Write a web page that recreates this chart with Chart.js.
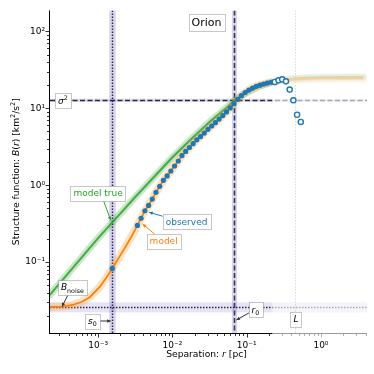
<!DOCTYPE html>
<html><head><meta charset="utf-8">
<script src="https://cdn.jsdelivr.net/npm/chart.js@4.4.1/dist/chart.umd.min.js"></script>
<style>html,body{margin:0;padding:0;background:#fff}#wrap{width:374px;height:374px;position:relative}</style>
</head><body><div id="wrap"><canvas id="c" width="374" height="374"></canvas></div>
<script>
// ---------- data ----------
// observed structure function, reliable bins (filled markers)
const obsR = [0.00155, 0.00338, 0.00379, 0.00426, 0.00478, 0.00536, 0.00601, 0.00675, 0.00757, 0.00849, 0.00953, 0.0107, 0.0120, 0.01346, 0.0151, 0.01694, 0.01901, 0.02133, 0.02393, 0.02685, 0.03013, 0.03381, 0.03793, 0.04256, 0.04775, 0.05358, 0.06012, 0.06745, 0.07568, 0.08492, 0.09528, 0.1069, 0.1200, 0.1346, 0.1510, 0.1694, 0.1901, 0.2133];
const obsB = [0.0828, 0.300, 0.372, 0.465, 0.546, 0.661, 0.809, 0.966, 1.156, 1.321, 1.531, 1.778, 2.065, 2.43, 2.75, 3.09, 3.47, 3.89, 4.29, 4.76, 5.33, 5.89, 6.50, 7.24, 8.04, 8.97, 10.1, 11.5, 13.1, 14.6, 16.0, 17.3, 18.3, 19.3, 20.0, 20.7, 21.3, 21.8];
// observed, large-separation bins (open markers)
const openR = [0.2393, 0.2685, 0.3013, 0.3381, 0.3793, 0.4256, 0.4775, 0.5358];
const openB = [22.0, 23.1, 23.8, 22.4, 17.5, 12.7, 8.24, 6.64];
// fitted model (with seeing + noise)
const modelR = [2.25e-4, 3.26e-4, 4.57e-4, 6.04e-4, 7.74e-4, 1.05e-3, 1.27e-3, 1.55e-3, 1.87e-3, 2.28e-3, 2.75e-3, 0.00338, 0.00379, 0.00426, 0.00478, 0.00536, 0.00601, 0.00675, 0.00757, 0.00849, 0.00953, 0.0107, 0.0120, 0.01346, 0.0151, 0.01694, 0.01901, 0.02133, 0.02393, 0.02685, 0.03013, 0.03381, 0.03793, 0.04256, 0.04775, 0.05358, 0.06012, 0.06745, 0.07568, 0.08492, 0.09528, 0.1069, 0.1200, 0.1346, 0.1510, 0.1694, 0.1901, 0.2133, 0.2393, 0.30, 0.45, 0.70, 1.0, 3.7];
const modelB = [0.0261, 0.0264, 0.0277, 0.0305, 0.0350, 0.0475, 0.0610, 0.0828, 0.111, 0.152, 0.207, 0.300, 0.372, 0.465, 0.546, 0.661, 0.809, 0.966, 1.156, 1.321, 1.531, 1.778, 2.065, 2.43, 2.75, 3.09, 3.47, 3.89, 4.29, 4.76, 5.33, 5.89, 6.50, 7.24, 8.04, 8.97, 10.1, 11.5, 13.1, 14.6, 16.0, 17.3, 18.3, 19.3, 20.0, 20.7, 21.3, 21.8, 22.3, 23.0, 23.7, 24.1, 24.3, 24.4];
// "true" model (no seeing, no noise)
const trueR = [2.24e-4, 1.0e-3, 3.16e-3, 0.01, 0.0178, 0.0316, 0.0562, 0.0684, 0.1, 0.141, 0.2, 0.282, 0.398, 0.631, 1.0, 3.7];
const trueB = [0.0375, 0.205, 0.70, 2.30, 3.95, 6.6, 10.6, 12.7, 16.0, 18.9, 21.2, 22.9, 24.1, 24.9, 25.3, 25.5];
// fitted parameters
const s0 = 1.56e-3, s0Range = [1.41e-3, 1.73e-3];
const r0 = 0.0684, r0Range = [0.0633, 0.0740];
const sig2 = 12.7, sig2Range = [12.14, 13.28];
const bNoise = 0.0258, bNoiseRange = [0.0222, 0.030];
const Lbox = 0.451;
const rGoodMax = 0.221;
// tick labels
const xTickValues = [1e-3, 1e-2, 1e-1, 1];
const xTickLabels = ['10⁻³', '10⁻²', '10⁻¹', '10⁰'];
const yTickValues = [1e-1, 1, 10, 100];
const yTickLabels = ['10⁻¹', '10⁰', '10¹', '10²'];
const xLimits = [2.25e-4, 4.17];
const yLimits = [0.01197, 187.5];

// ---------- styling ----------
const COL = {blue: '#1f77b4', orange: '#ff7f0e', green: '#2ca02c'};
const FONT = '"DejaVu Sans"';
Chart.defaults.font.family = FONT;

const annotations = [
  {segs: [{t: 'Orion'}], at: [0.0288, 131], size: 11, color: '#000'},
  {segs: [{t: 'σ', it: 1}, {t: '2', sup: 1}], at: [3.36e-4, 12.6], size: 9, color: '#000'},
  {segs: [{t: 'model true'}], at: [1.0e-3, 0.787], size: 9, color: COL.green, arrow: [[1.19e-3, 0.619], [1.48e-3, 0.351]]},
  {segs: [{t: 'observed'}], at: [0.0155, 0.336], size: 9, color: COL.blue, arrow: [[7.38e-3, 0.395], [4.86e-3, 0.445]]},
  {segs: [{t: 'model'}], at: [7.62e-3, 0.1875], size: 9, color: COL.orange, arrow: [[5.77e-3, 0.231], [3.98e-3, 0.312]]},
  {segs: [{t: 'B', it: 1}, {t: 'noise', sub: 1}], at: [4.5e-4, 0.0473], size: 9, color: '#000', arrow: [[3.92e-4, 0.0372], [3.26e-4, 0.0264]]},
  {segs: [{t: 's', it: 1}, {t: '0', sub: 1}], at: [8.36e-4, 0.01714], size: 9, color: '#000', arrow: [[1.07e-3, 0.01714], [1.48e-3, 0.01714]]},
  {segs: [{t: 'r', it: 1}, {t: '0', sub: 1}], at: [0.131, 0.02415], size: 9, color: '#000', arrow: [[0.107, 0.0218], [0.0728, 0.01766]]},
  {segs: [{t: 'L', it: 1}], at: [0.46, 0.0182], size: 9, color: '#000'}
];

function segFont(s, size) {
  const sz = (s.sub || s.sup) ? size * 0.7 : size;
  return (s.it ? 'italic ' : '') + sz + 'px ' + FONT;
}
function richWidth(ctx, segs, size) {
  let w = 0;
  segs.forEach(s => { ctx.font = segFont(s, size); w += ctx.measureText(s.t).width; });
  return w;
}
function drawRich(ctx, segs, x, y, size, color) { // x = left, y = baseline
  ctx.fillStyle = color; ctx.textBaseline = 'alphabetic'; ctx.textAlign = 'left';
  segs.forEach(s => {
    ctx.font = segFont(s, size);
    const dy = s.sub ? size * 0.25 : (s.sup ? -size * 0.4 : 0);
    ctx.fillText(s.t, x, y + dy);
    x += ctx.measureText(s.t).width;
  });
}
function arrow(ctx, x1, y1, x2, y2, color) {
  ctx.strokeStyle = color; ctx.lineWidth = 1;
  ctx.beginPath(); ctx.moveTo(x1, y1); ctx.lineTo(x2, y2); ctx.stroke();
  const ang = Math.atan2(y2 - y1, x2 - x1), hl = 4, hw = 0.45;
  ctx.fillStyle = color;
  ctx.beginPath();
  ctx.moveTo(x2, y2);
  ctx.lineTo(x2 - hl * Math.cos(ang - hw), y2 - hl * Math.sin(ang - hw));
  ctx.lineTo(x2 - hl * Math.cos(ang + hw), y2 - hl * Math.sin(ang + hw));
  ctx.closePath(); ctx.fill();
}

const deco = {
  id: 'deco',
  beforeDatasetsDraw(chart) {
    const {ctx, chartArea: a} = chart, xs = chart.scales.x, ys = chart.scales.y;
    ctx.save();
    ctx.beginPath(); ctx.rect(a.left, a.top, a.right - a.left, a.bottom - a.top); ctx.clip();
    // uncertainty bands of the parameters
    ctx.fillStyle = 'rgba(115,100,205,0.28)';
    let p1 = xs.getPixelForValue(s0Range[0]), p2 = xs.getPixelForValue(s0Range[1]);
    ctx.fillRect(p1, a.top, p2 - p1, a.bottom - a.top);
    p1 = xs.getPixelForValue(r0Range[0]); p2 = xs.getPixelForValue(r0Range[1]);
    ctx.fillRect(p1, a.top, p2 - p1, a.bottom - a.top);
    ctx.fillStyle = 'rgba(115,100,205,0.25)';
    p1 = ys.getPixelForValue(sig2Range[1]); p2 = ys.getPixelForValue(sig2Range[0]);
    ctx.fillRect(a.left, p1, a.right - a.left, p2 - p1);
    ctx.fillStyle = 'rgba(115,100,205,0.18)';
    p1 = ys.getPixelForValue(bNoiseRange[1]); p2 = ys.getPixelForValue(bNoiseRange[0]);
    ctx.fillRect(a.left, p1, a.right - a.left, p2 - p1);
    // reference lines
    const vline = (v, dash, col, w) => {
      const px = Math.round(xs.getPixelForValue(v)) + 0.5;
      ctx.setLineDash(dash); ctx.strokeStyle = col; ctx.lineWidth = w;
      ctx.beginPath(); ctx.moveTo(px, a.top); ctx.lineTo(px, a.bottom); ctx.stroke();
    };
    const hline = (v, dash, col, w) => {
      const py = Math.round(ys.getPixelForValue(v)) + 0.5;
      ctx.setLineDash(dash); ctx.strokeStyle = col; ctx.lineWidth = w;
      ctx.beginPath(); ctx.moveTo(a.left, py); ctx.lineTo(a.right, py); ctx.stroke();
    };
    vline(Lbox, [1, 2], '#777', 1);
    vline(s0, [1.5, 1.5], '#2a2a3a', 1.5);
    vline(r0, [5, 2.5], '#3a3a4a', 1.6);
    hline(sig2, [5, 2.5], '#2a2a3a', 1.5);
    hline(bNoise, [1.5, 1.5], '#2a2a3a', 1.5);
    ctx.restore();
    // spines and ticks
    ctx.save();
    ctx.strokeStyle = '#000'; ctx.lineWidth = 1; ctx.setLineDash([]);
    ctx.beginPath();
    ctx.moveTo(a.left - 0.5, a.top); ctx.lineTo(a.left - 0.5, a.bottom + 0.5);
    ctx.moveTo(a.left - 1, a.bottom + 0.5); ctx.lineTo(a.right, a.bottom + 0.5);
    ctx.stroke();
    ctx.lineWidth = 0.8;
    ctx.beginPath();
    for (let d = -4; d <= 1; d++) for (let j = 1; j <= 9; j++) {
      const v = j * Math.pow(10, d);
      if (v < xs.min || v > xs.max) continue;
      const px = Math.round(xs.getPixelForValue(v)) + 0.5;
      ctx.moveTo(px, a.bottom + 1); ctx.lineTo(px, a.bottom + 1 + (j === 1 ? 3.5 : 2));
    }
    for (let d = -2; d <= 2; d++) for (let j = 1; j <= 9; j++) {
      const v = j * Math.pow(10, d);
      if (v < ys.min || v > ys.max) continue;
      const py = Math.round(ys.getPixelForValue(v)) + 0.5;
      ctx.moveTo(a.left - 1, py); ctx.lineTo(a.left - 1 - (j === 1 ? 3.5 : 2), py);
    }
    ctx.stroke();
    ctx.restore();
  },
  beforeDatasetDraw(chart, args) {
    if (args.index !== 1) return;
    const {ctx, chartArea: a} = chart;
    const px = chart.scales.x.getPixelForValue(rGoodMax);
    ctx.save();
    ctx.fillStyle = 'rgba(255,255,255,0.6)';
    ctx.fillRect(px, 0, chart.width - px, a.bottom + 5);
    ctx.restore();
  },
  afterDraw(chart) {
    const {ctx, chartArea: a} = chart, xs = chart.scales.x, ys = chart.scales.y;
    ctx.save();
    annotations.forEach(an => {
      if (an.arrow) {
        const [f, t] = an.arrow;
        arrow(ctx, xs.getPixelForValue(f[0]), ys.getPixelForValue(f[1]), xs.getPixelForValue(t[0]), ys.getPixelForValue(t[1]), an.color === '#000' ? '#333' : an.color);
      }
      const cx = xs.getPixelForValue(an.at[0]), cy = ys.getPixelForValue(an.at[1]);
      const w = richWidth(ctx, an.segs, an.size) + 6, h = an.size * 1.2 + 4;
      ctx.fillStyle = '#fff'; ctx.strokeStyle = 'rgba(0,0,0,0.22)'; ctx.lineWidth = 1;
      const bx = Math.round(cx - w / 2) + 0.5, by = Math.round(cy - h / 2) + 0.5;
      ctx.fillRect(bx, by, Math.round(w), Math.round(h));
      ctx.strokeRect(bx, by, Math.round(w), Math.round(h));
      drawRich(ctx, an.segs, cx - w / 2 + 3, cy + an.size * 0.36, an.size, an.color);
    });
    // axis titles
    const xs9 = 9.2;
    const xt = [{t: 'Separation: '}, {t: 'r', it: 1}, {t: ' [pc]'}];
    const xw = richWidth(ctx, xt, xs9);
    drawRich(ctx, xt, (a.left + a.right) / 2 - xw / 2 - 2, 357, xs9, '#000');
    const yt = [{t: 'Structure function: '}, {t: 'B', it: 1}, {t: '('}, {t: 'r', it: 1}, {t: ') [km'}, {t: '2', sup: 1}, {t: '/s'}, {t: '2', sup: 1}, {t: ']'}];
    const yw = richWidth(ctx, yt, xs9);
    ctx.translate(15.7, (a.top + a.bottom) / 2);
    ctx.rotate(-Math.PI / 2);
    drawRich(ctx, yt, -yw / 2, 3.3, xs9, '#000');
    ctx.restore();
  }
};

const pts = (rs, bs) => rs.map((r, i) => ({x: r, y: bs[i]}));
const tickCb = (vals, labels) => (v) => {
  const i = vals.findIndex(t => Math.abs(Math.log10(t) - Math.log10(v)) < 1e-6);
  return i >= 0 ? labels[i] : '';
};

new Chart(document.getElementById('c'), {
  type: 'scatter',
  data: {
    datasets: [
      {label: 'observed (large r)', data: pts(openR, openB), pointRadius: 2.6, pointBorderWidth: 1.4,
       pointBackgroundColor: '#fff', pointBorderColor: COL.blue, showLine: false},
      {label: 'observed', data: pts(obsR, obsB), pointRadius: 2.6, pointBorderWidth: 0,
       pointBackgroundColor: COL.blue, pointBorderColor: COL.blue, showLine: false},
      {label: 'model', data: pts(modelR, modelB), showLine: true, borderColor: COL.orange, borderWidth: 1.8, pointRadius: 0},
      {label: 'model spread', data: pts(modelR, modelB), showLine: true, borderColor: 'rgba(255,150,30,0.28)', borderWidth: 8, pointRadius: 0, borderCapStyle: 'round'},
      {label: 'model true', data: pts(trueR, trueB), showLine: true, borderColor: 'rgba(44,160,44,0.8)', borderWidth: 2.2, pointRadius: 0},
      {label: 'model true spread', data: pts(trueR, trueB), showLine: true, borderColor: 'rgba(44,160,44,0.25)', borderWidth: 7, pointRadius: 0, borderCapStyle: 'round'}
    ]
  },
  options: {
    responsive: false, animation: false, devicePixelRatio: 1,
    layout: {padding: {top: 10, right: 6, left: 0, bottom: 0}},
    plugins: {legend: {display: false}, tooltip: {enabled: false}},
    scales: {
      x: {type: 'logarithmic', min: xLimits[0], max: xLimits[1],
          grid: {display: false, drawTicks: false, tickLength: 0}, border: {display: false},
          ticks: {autoSkip: false, maxRotation: 0, minRotation: 0, padding: 7, color: '#000', font: {size: 9}, callback: tickCb(xTickValues, xTickLabels)},
          afterFit: (s) => { s.height = 41; }},
      y: {type: 'logarithmic', min: yLimits[0], max: yLimits[1],
          grid: {display: false, drawTicks: false, tickLength: 0}, border: {display: false},
          ticks: {autoSkip: false, padding: 5, color: '#000', font: {size: 9}, callback: tickCb(yTickValues, yTickLabels)},
          afterFit: (s) => { s.width = 50; }}
    }
  },
  plugins: [deco]
});
</script></body></html>
